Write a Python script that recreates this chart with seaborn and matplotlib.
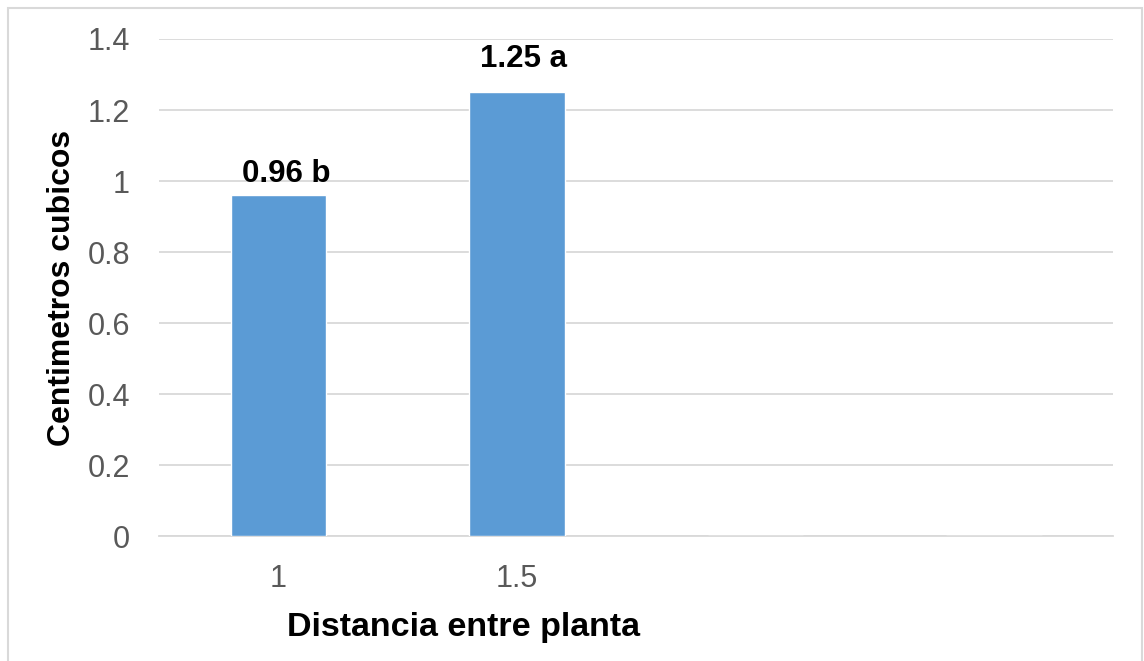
import matplotlib
matplotlib.use("Agg")
import matplotlib.pyplot as plt
import seaborn as sns
import pandas as pd
from matplotlib.patches import Rectangle

# Data
categories = ["1", "1.5", " ", "  "]
values = [0.96, 1.25, 0.0, 0.0]
labels = ["0.96 b", "1.25 a", "", ""]
yticks = [0, 0.2, 0.4, 0.6, 0.8, 1, 1.2, 1.4]
ytick_labels = ["0", "0.2", "0.4", "0.6", "0.8", "1", "1.2", "1.4"]

sns.set_theme(style="white")
plt.rcParams["font.family"] = ["Liberation Sans", "DejaVu Sans"]

df = pd.DataFrame({"cat": categories, "val": values})

fig = plt.figure(figsize=(11.44, 6.61), dpi=100)
ax = fig.add_axes([0.139, 0.189, 0.834, 0.752])

sns.barplot(data=df, x="cat", y="val", color="#5B9BD5", saturation=1,
            width=0.4, ax=ax, zorder=3)

ax.set_ylim(0, 1.4)
ax.set_xlim(-0.5, 3.5)
ax.set_yticks(yticks)
ax.set_yticklabels(ytick_labels)
ax.grid(axis="y", color="#D9D9D9", linewidth=1.3, zorder=0)
ax.grid(axis="x", visible=False)
for side in ["left", "right", "top"]:
    ax.spines[side].set_visible(False)
ax.spines["bottom"].set_color("#D9D9D9")
ax.spines["bottom"].set_linewidth(1.3)
ax.tick_params(axis="both", length=0, labelsize=22, labelcolor="#595959")
ax.tick_params(axis="x", pad=20)
ax.tick_params(axis="y", pad=21)

ax.set_xlabel("Distancia entre planta", fontsize=24.5, fontweight="bold",
              color="black")
ax.set_ylabel("Centimetros cubicos", fontsize=23, fontweight="bold",
              color="black")
ax.xaxis.set_label_coords(0.319, -0.152)
ax.yaxis.set_label_coords(-0.086, 0.5)

# Value labels above bars (offsets in points from the bar top centre)
label_offsets = [(6, 9.5), (5, 18.5), (0, 0), (0, 0)]
for patch, lab, off in zip(ax.patches, labels, label_offsets):
    if lab:
        ax.annotate(lab, (patch.get_x() + patch.get_width() / 2, patch.get_height()),
                    xytext=off, textcoords="offset points",
                    ha="center", va="baseline", fontsize=22.5, fontweight="bold",
                    color="black")

# Chart-area border
fig.patches.append(Rectangle((8 / 1144, -0.05), 1134 / 1144, 1.05 - 8 / 661,
                             transform=fig.transFigure, fill=False,
                             edgecolor="#D9D9D9", linewidth=1.5))

fig.savefig("out.png", dpi=100)
